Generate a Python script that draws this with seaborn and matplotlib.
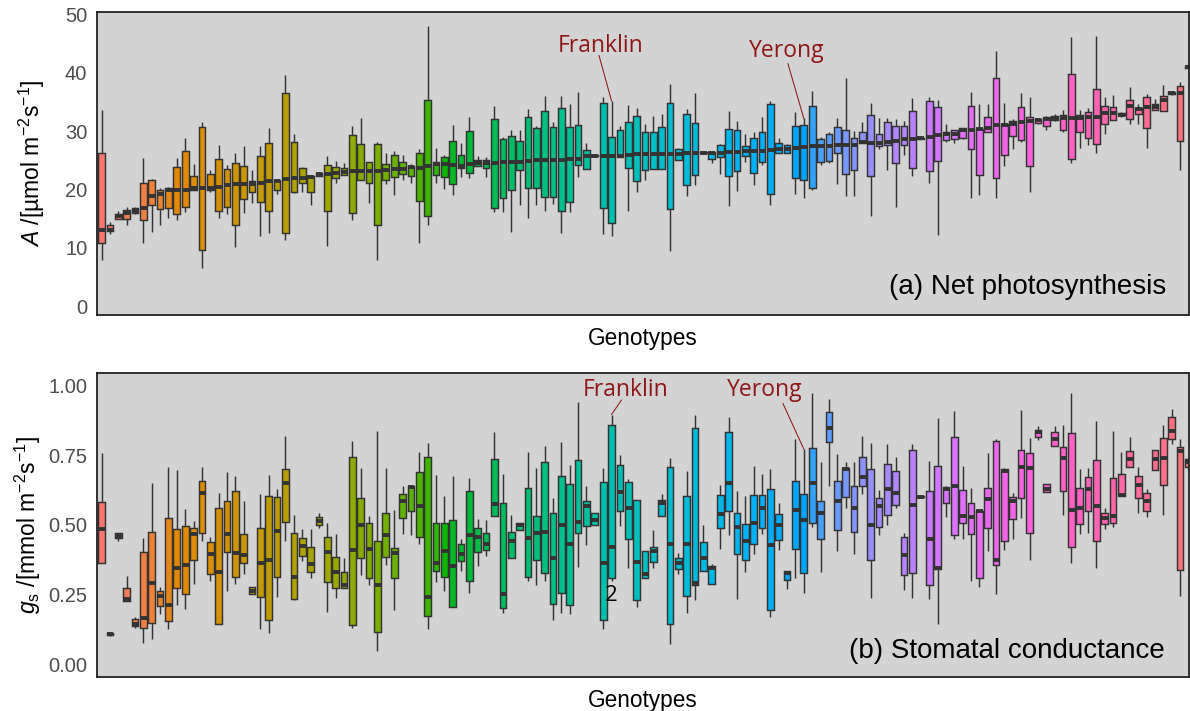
import numpy as np
import pandas as pd
import matplotlib
matplotlib.use("Agg")
import matplotlib.pyplot as plt
import seaborn as sns

# ---------------- data (five-number summaries per genotype, sorted by median A) -------------
A_lo = [8.0, 12.3, 14.9, 13.9, 15.8, 10.8, 12.7, 14.0, 15.1, 14.7,
        16.2, 20.0, 6.6, 19.5, 15.1, 15.8, 10.1, 16.0, 17.7, 12.1,
        12.5, 19.2, 11.4, 19.4, 19.6, 17.4, 22.4, 10.3, 21.2, 22.5,
        14.7, 21.6, 17.7, 7.9, 21.0, 19.0, 21.6, 21.1, 10.8, 14.0,
        21.1, 20.1, 19.1, 22.2, 21.9, 24.1, 22.2, 16.2, 16.2, 12.7,
        17.4, 15.2, 17.4, 16.3, 17.5, 12.6, 16.2, 22.2, 23.6, 25.6,
        12.3, 12.1, 25.5, 16.3, 19.6, 21.6, 23.6, 23.6, 9.5, 25.0,
        18.9, 20.8, 26.1, 24.5, 22.7, 17.2, 19.7, 24.8, 20.8, 24.2,
        17.4, 26.3, 26.2, 19.2, 18.6, 20.0, 24.2, 24.6, 21.0, 18.9,
        18.9, 28.0, 15.5, 26.9, 23.3, 17.0, 26.0, 22.3, 28.6, 21.2,
        12.2, 28.2, 27.9, 28.6, 18.5, 19.0, 29.8, 18.5, 24.1, 26.9,
        28.1, 19.6, 31.3, 30.2, 31.8, 29.9, 24.5, 27.2, 27.7, 26.2,
        29.6, 31.9, 32.5, 31.3, 31.3, 27.2, 33.6, 33.5, 36.2, 23.3,
        40.8]
A_q1 = [10.9, 12.9, 14.9, 14.9, 16.0, 14.7, 17.4, 16.7, 16.9, 15.8,
        17.0, 20.0, 9.6, 20.0, 16.3, 17.0, 13.9, 18.3, 19.6, 17.9,
        16.4, 19.9, 12.5, 19.6, 21.2, 19.6, 22.4, 16.4, 21.9, 22.5,
        16.0, 21.6, 21.1, 14.0, 21.6, 22.2, 22.7, 22.4, 18.0, 15.4,
        22.5, 22.2, 21.0, 23.7, 22.9, 24.1, 23.7, 16.9, 18.6, 19.9,
        23.3, 20.2, 20.2, 18.7, 18.7, 16.3, 17.9, 24.2, 23.6, 25.7,
        16.8, 14.3, 25.5, 23.7, 21.5, 23.3, 23.6, 23.6, 16.6, 25.0,
        20.8, 22.5, 26.2, 25.3, 25.5, 22.3, 23.2, 25.8, 22.8, 24.8,
        19.2, 26.3, 26.2, 22.0, 21.6, 20.3, 24.7, 24.9, 26.2, 22.7,
        23.3, 28.0, 22.3, 27.5, 27.7, 24.5, 27.7, 23.7, 28.7, 23.1,
        24.9, 28.5, 28.6, 28.9, 27.0, 22.5, 29.8, 21.9, 25.9, 29.2,
        28.5, 24.1, 31.4, 30.9, 32.0, 30.2, 25.2, 29.8, 28.9, 27.8,
        31.2, 31.9, 32.7, 32.1, 32.9, 30.6, 33.6, 33.5, 36.3, 28.4,
        40.9]
A_med = [13.1, 13.1, 15.4, 16.0, 16.4, 16.8, 18.9, 19.3, 19.9, 19.9,
         19.9, 20.3, 20.3, 20.3, 20.4, 20.8, 20.9, 21.0, 21.0, 21.2,
         21.4, 21.4, 21.8, 21.9, 22.0, 22.2, 22.6, 22.7, 22.9, 23.0,
         23.1, 23.1, 23.1, 23.2, 23.3, 23.5, 23.6, 23.9, 23.7, 24.1,
         24.3, 24.3, 24.2, 24.1, 24.3, 24.5, 24.5, 24.6, 24.7, 24.8,
         24.8, 24.9, 25.0, 25.0, 25.0, 25.0, 25.2, 25.3, 25.7, 25.8,
         25.8, 25.8, 25.8, 25.9, 26.1, 26.1, 26.1, 26.1, 26.1, 26.1,
         26.2, 26.2, 26.3, 26.3, 26.3, 26.5, 26.5, 26.6, 26.6, 26.6,
         26.8, 26.9, 27.0, 27.2, 27.3, 27.4, 27.5, 27.5, 27.6, 27.7,
         27.7, 28.2, 27.9, 27.9, 28.1, 28.4, 28.6, 28.7, 28.8, 29.0,
         29.4, 29.5, 29.5, 30.2, 30.2, 30.3, 30.6, 31.1, 31.1, 31.3,
         31.5, 31.7, 31.9, 32.1, 32.2, 32.2, 32.2, 32.3, 32.4, 32.4,
         33.2, 33.2, 32.8, 34.4, 33.8, 34.2, 34.2, 35.4, 36.5, 36.5,
         41.0]
A_q3 = [26.2, 13.9, 15.8, 16.5, 16.8, 21.2, 21.6, 20.0, 20.3, 23.9,
        26.6, 22.3, 30.8, 22.7, 25.3, 23.5, 24.5, 24.1, 21.5, 25.8,
        27.9, 21.6, 36.5, 28.1, 23.7, 22.3, 22.9, 24.2, 23.8, 23.7,
        29.4, 27.8, 24.8, 27.8, 24.3, 25.9, 24.8, 24.1, 26.2, 35.4,
        24.8, 25.5, 28.4, 25.9, 30.1, 25.0, 25.1, 32.1, 28.7, 29.2,
        28.4, 32.4, 30.6, 33.5, 30.8, 34.0, 30.7, 31.0, 26.8, 25.9,
        34.8, 29.0, 30.2, 31.6, 32.6, 29.8, 29.8, 30.8, 34.9, 26.9,
        32.9, 31.4, 26.4, 26.4, 27.6, 30.4, 30.2, 27.4, 28.9, 29.8,
        34.7, 27.9, 27.7, 30.9, 31.1, 34.4, 28.7, 29.6, 30.8, 30.2,
        28.9, 29.8, 32.8, 29.6, 31.5, 30.9, 30.9, 33.4, 28.9, 35.1,
        34.2, 29.9, 30.2, 30.5, 34.4, 30.4, 32.4, 39.2, 31.2, 31.8,
        34.1, 32.5, 32.1, 32.5, 32.6, 32.7, 39.8, 32.7, 33.3, 37.2,
        34.4, 34.2, 33.2, 35.4, 33.9, 35.8, 34.6, 36.1, 36.8, 37.8,
        41.1]
A_hi = [33.6, 14.5, 16.3, 17.0, 17.0, 25.4, 21.8, 20.3, 20.5, 25.4,
        28.8, 24.3, 31.5, 23.3, 27.7, 24.2, 26.2, 27.5, 23.3, 27.5,
        30.6, 21.8, 39.7, 29.5, 23.8, 22.3, 22.9, 25.7, 24.9, 24.5,
        30.9, 32.2, 24.8, 28.2, 26.2, 26.6, 25.9, 24.3, 27.0, 48.0,
        27.2, 26.0, 31.1, 28.0, 32.4, 25.7, 25.5, 34.4, 29.0, 30.2,
        30.2, 33.8, 30.9, 36.1, 31.5, 36.0, 34.6, 36.7, 27.9, 26.0,
        35.9, 35.2, 30.9, 34.5, 34.0, 31.3, 32.6, 32.9, 38.1, 27.2,
        33.8, 36.5, 26.6, 26.5, 27.8, 33.4, 31.8, 29.5, 29.9, 32.4,
        35.1, 28.9, 27.8, 33.3, 32.2, 36.9, 29.0, 29.9, 32.2, 39.1,
        30.0, 31.5, 34.9, 32.2, 32.2, 32.1, 31.7, 35.7, 29.0, 35.8,
        35.3, 31.3, 30.2, 30.5, 36.8, 34.7, 34.6, 43.8, 34.9, 32.1,
        36.5, 35.8, 32.3, 32.6, 33.0, 33.6, 46.1, 33.6, 34.0, 46.4,
        35.8, 36.2, 33.3, 37.5, 34.6, 36.3, 35.5, 37.9, 36.9, 38.5,
        41.2]

gs_lo = [0.364, 0.100, 0.442, 0.227, 0.131, 0.077, 0.089, 0.181, 0.125, 0.214,
         0.197, 0.287, 0.442, 0.299, 0.145, 0.263, 0.289, 0.323, 0.251, 0.127,
         0.113, 0.241, 0.442, 0.230, 0.370, 0.308, 0.488, 0.188, 0.239, 0.275,
         0.131, 0.320, 0.284, 0.049, 0.356, 0.193, 0.466, 0.464, 0.431, 0.125,
         0.296, 0.263, 0.205, 0.335, 0.257, 0.353, 0.388, 0.532, 0.185, 0.380,
         0.481, 0.299, 0.284, 0.299, 0.157, 0.185, 0.181, 0.349, 0.428, 0.500,
         0.128, 0.299, 0.496, 0.346, 0.205, 0.308, 0.346, 0.532, 0.071, 0.323,
         0.185, 0.230, 0.335, 0.287, 0.412, 0.464, 0.233, 0.332, 0.397, 0.466,
         0.169, 0.409, 0.269, 0.310, 0.257, 0.493, 0.332, 0.640, 0.406, 0.562,
         0.395, 0.610, 0.239, 0.464, 0.500, 0.562, 0.265, 0.239, 0.598, 0.233,
         0.143, 0.529, 0.449, 0.449, 0.299, 0.277, 0.406, 0.251, 0.409, 0.449,
         0.526, 0.373, 0.804, 0.619, 0.784, 0.536, 0.364, 0.466, 0.469, 0.346,
         0.484, 0.493, 0.604, 0.706, 0.541, 0.529, 0.697, 0.536, 0.790, 0.245,
         0.700]
gs_q1 = [0.364, 0.103, 0.452, 0.227, 0.137, 0.131, 0.149, 0.209, 0.155, 0.275,
         0.251, 0.374, 0.472, 0.323, 0.145, 0.404, 0.314, 0.362, 0.251, 0.241,
         0.157, 0.313, 0.511, 0.234, 0.388, 0.332, 0.500, 0.296, 0.272, 0.275,
         0.140, 0.380, 0.308, 0.116, 0.385, 0.308, 0.524, 0.550, 0.458, 0.173,
         0.335, 0.313, 0.205, 0.370, 0.299, 0.404, 0.409, 0.532, 0.200, 0.380,
         0.481, 0.313, 0.373, 0.328, 0.217, 0.257, 0.212, 0.472, 0.496, 0.500,
         0.157, 0.308, 0.550, 0.449, 0.229, 0.308, 0.368, 0.532, 0.145, 0.340,
         0.245, 0.284, 0.335, 0.287, 0.490, 0.548, 0.397, 0.373, 0.433, 0.490,
         0.193, 0.445, 0.301, 0.412, 0.328, 0.505, 0.449, 0.796, 0.481, 0.601,
         0.476, 0.640, 0.373, 0.493, 0.536, 0.572, 0.320, 0.328, 0.599, 0.284,
         0.341, 0.580, 0.464, 0.508, 0.466, 0.310, 0.488, 0.356, 0.442, 0.520,
         0.598, 0.472, 0.814, 0.619, 0.784, 0.620, 0.419, 0.502, 0.548, 0.442,
         0.502, 0.505, 0.604, 0.706, 0.596, 0.550, 0.697, 0.644, 0.808, 0.337,
         0.706]
gs_med = [0.485, 0.107, 0.460, 0.233, 0.143, 0.167, 0.293, 0.245, 0.212, 0.346,
          0.356, 0.466, 0.616, 0.397, 0.332, 0.466, 0.398, 0.392, 0.263, 0.364,
          0.373, 0.478, 0.651, 0.313, 0.423, 0.359, 0.514, 0.404, 0.332, 0.284,
          0.409, 0.500, 0.412, 0.284, 0.464, 0.400, 0.584, 0.636, 0.567, 0.241,
          0.364, 0.406, 0.353, 0.397, 0.464, 0.457, 0.431, 0.574, 0.251, 0.442,
          0.500, 0.452, 0.469, 0.476, 0.382, 0.500, 0.431, 0.511, 0.566, 0.517,
          0.364, 0.421, 0.619, 0.559, 0.368, 0.325, 0.406, 0.580, 0.433, 0.364,
          0.431, 0.293, 0.382, 0.344, 0.538, 0.649, 0.493, 0.442, 0.505, 0.562,
          0.428, 0.500, 0.326, 0.553, 0.517, 0.649, 0.541, 0.848, 0.584, 0.700,
          0.562, 0.670, 0.500, 0.568, 0.628, 0.616, 0.392, 0.572, 0.601, 0.449,
          0.346, 0.628, 0.640, 0.532, 0.529, 0.548, 0.592, 0.373, 0.694, 0.586,
          0.709, 0.704, 0.832, 0.628, 0.808, 0.740, 0.553, 0.562, 0.628, 0.568,
          0.524, 0.532, 0.608, 0.736, 0.644, 0.586, 0.736, 0.740, 0.836, 0.764,
          0.725]
gs_q3 = [0.583, 0.112, 0.470, 0.272, 0.161, 0.404, 0.475, 0.263, 0.526, 0.484,
         0.496, 0.490, 0.656, 0.440, 0.562, 0.584, 0.622, 0.466, 0.277, 0.488,
         0.603, 0.601, 0.700, 0.472, 0.454, 0.421, 0.529, 0.457, 0.386, 0.332,
         0.742, 0.598, 0.506, 0.442, 0.542, 0.416, 0.610, 0.640, 0.688, 0.742,
         0.505, 0.505, 0.517, 0.433, 0.622, 0.488, 0.469, 0.736, 0.580, 0.476,
         0.505, 0.631, 0.532, 0.724, 0.544, 0.676, 0.646, 0.734, 0.584, 0.541,
         0.655, 0.860, 0.716, 0.655, 0.589, 0.406, 0.419, 0.589, 0.706, 0.380,
         0.604, 0.848, 0.440, 0.353, 0.607, 0.832, 0.544, 0.502, 0.608, 0.608,
         0.628, 0.538, 0.335, 0.658, 0.610, 0.776, 0.584, 0.904, 0.656, 0.704,
         0.640, 0.742, 0.700, 0.596, 0.718, 0.692, 0.457, 0.769, 0.603, 0.620,
         0.712, 0.637, 0.814, 0.625, 0.580, 0.550, 0.634, 0.802, 0.700, 0.601,
         0.769, 0.757, 0.840, 0.646, 0.832, 0.778, 0.828, 0.632, 0.673, 0.733,
         0.544, 0.668, 0.682, 0.764, 0.676, 0.613, 0.769, 0.812, 0.886, 0.778,
         0.736]
gs_hi = [0.757, 0.115, 0.470, 0.317, 0.169, 0.452, 0.652, 0.278, 0.709, 0.697,
         0.556, 0.514, 0.706, 0.457, 0.616, 0.691, 0.676, 0.584, 0.277, 0.610,
         0.679, 0.628, 0.819, 0.536, 0.484, 0.484, 0.541, 0.508, 0.466, 0.382,
         0.802, 0.704, 0.532, 0.836, 0.704, 0.553, 0.640, 0.644, 0.760, 0.793,
         0.680, 0.604, 0.676, 0.449, 0.668, 0.520, 0.517, 0.832, 0.682, 0.536,
         0.505, 0.760, 0.704, 0.784, 0.598, 0.799, 0.716, 0.940, 0.638, 0.541,
         0.704, 0.896, 0.752, 0.664, 0.589, 0.406, 0.481, 0.610, 0.740, 0.400,
         0.692, 0.896, 0.500, 0.361, 0.644, 0.886, 0.620, 0.604, 0.712, 0.682,
         0.700, 0.577, 0.335, 0.808, 0.772, 0.972, 0.724, 0.952, 0.754, 0.724,
         0.724, 0.820, 0.793, 0.625, 0.790, 0.742, 0.469, 0.790, 0.604, 0.730,
         0.884, 0.640, 0.908, 0.712, 0.634, 0.553, 0.757, 0.808, 0.704, 0.613,
         0.912, 0.812, 0.853, 0.646, 0.856, 0.860, 0.972, 0.700, 0.704, 0.872,
         0.562, 0.838, 0.760, 0.814, 0.706, 0.628, 0.769, 0.860, 0.916, 0.808,
         0.740]

n_geno = len(A_med)
genotypes = [f"G{i + 1:03d}" for i in range(n_geno)]
FRANKLIN, YERONG = 61, 84
genotypes[FRANKLIN] = "Franklin"
genotypes[YERONG] = "Yerong"

# ---------------- ggplot-like hue palette (HCL, c=100, l=65) ----------------
def hue_pal(n, c=100.0, l=65.0):
    h = np.deg2rad(np.linspace(15, 375, n + 1)[:-1])
    u = c * np.cos(h); v = c * np.sin(h)
    Xn, Yn, Zn = 0.95047, 1.0, 1.08883
    un = 4 * Xn / (Xn + 15 * Yn + 3 * Zn)
    vn = 9 * Yn / (Xn + 15 * Yn + 3 * Zn)
    Y = Yn * ((l + 16) / 116) ** 3
    up = u / (13 * l) + un
    vp = v / (13 * l) + vn
    X = Y * 9 * up / (4 * vp)
    Z = Y * (12 - 3 * up - 20 * vp) / (4 * vp)
    R = 3.2404542 * X - 1.5371385 * Y - 0.4985314 * Z
    G = -0.9692660 * X + 1.8760108 * Y + 0.0415560 * Z
    B = 0.0556434 * X - 0.2040259 * Y + 1.0572252 * Z
    rgb = np.stack([R, G, B], axis=1)
    rgb = np.where(rgb <= 0.0031308, 12.92 * rgb, 1.055 * np.clip(rgb, 0, None) ** (1 / 2.4) - 0.055)
    return [tuple(x) for x in np.clip(rgb, 0, 1)]

colors = hue_pal(n_geno)
palette = dict(zip(genotypes, colors))

def long_frame(lo, q1, med, q3, hi, name):
    rows = []
    for g, a, b, c_, d, e in zip(genotypes, lo, q1, med, q3, hi):
        for val in (a, b, c_, d, e):
            rows.append((g, val))
    return pd.DataFrame(rows, columns=["genotype", name])

dfA = long_frame(A_lo, A_q1, A_med, A_q3, A_hi, "A")
dfG = long_frame(gs_lo, gs_q1, gs_med, gs_q3, gs_hi, "gs")

# ---------------- style ----------------
sns.set_style("white")
plt.rcParams["font.family"] = ["Liberation Sans", "DejaVu Sans"]
plt.rcParams["text.color"] = "black"
plt.rcParams["axes.labelcolor"] = "black"
plt.rcParams["mathtext.fontset"] = "custom"
plt.rcParams["mathtext.rm"] = "Liberation Sans"
plt.rcParams["mathtext.it"] = "Liberation Sans:italic"
plt.rcParams["mathtext.bf"] = "Liberation Sans:bold"

fig = plt.figure(figsize=(11.9, 7.11), dpi=100)
axA = fig.add_axes([0.0815, 0.557, 0.9176, 0.4266])
axG = fig.add_axes([0.0815, 0.0482, 0.9176, 0.4276])

box_kw = dict(order=genotypes, hue="genotype", hue_order=genotypes, palette=palette,
              legend=False, whis=(0, 100), width=0.8, saturation=1, dodge=False,
              linecolor="#333333", linewidth=1.05, showcaps=False, fliersize=0,
              medianprops=dict(linewidth=2.8, color="#333333"))

sns.boxplot(data=dfA, x="genotype", y="A", ax=axA, **box_kw)
sns.boxplot(data=dfG, x="genotype", y="gs", ax=axG, **box_kw)

red = "#8E1616"
for ax in (axA, axG):
    ax.set_facecolor("#D3D3D3")
    ax.set_xlim(-0.55, n_geno - 0.93)
    ax.set_xticks([])
    ax.set_xlabel("Genotypes", fontsize=16.3, labelpad=9, color="black")
    ax.tick_params(axis="y", length=0, pad=7, labelsize=14.5, labelcolor="#4D4D4D")
    for s in ax.spines.values():
        s.set_visible(True)
        s.set_color("#222222")
        s.set_linewidth(1.3)
    ax.grid(False)

axA.set_ylim(-1.5, 50.5)
axA.set_yticks([0, 10, 20, 30, 40, 50])
axA.set_ylabel(r"$\mathit{A}$ /[µmol m$^{-2}$s$^{-1}$]", fontsize=16.5, labelpad=13, color="black")
axG.set_ylim(-0.045, 1.046)
axG.set_yticks([0, 0.25, 0.5, 0.75, 1.0])
axG.set_yticklabels(["0.00", "0.25", "0.50", "0.75", "1.00"])
axG.set_ylabel(r"$g_{\mathrm{s}}$ /[mmol m$^{-2}$s$^{-1}$]", fontsize=16.5, labelpad=4, color="black")

afont = dict(family=["Open Sans", "DejaVu Sans"], fontsize=16.5, color=red,
             ha="center", va="baseline")
line_kw = dict(arrowstyle="-", color=red, lw=0.75, shrinkA=0, shrinkB=0)

# panel (a) annotations
axA.text(59.75, 43.5, "Franklin", **afont)
axA.annotate("", xy=(FRANKLIN, A_hi[FRANKLIN]), xytext=(59.5, 43.0), arrowprops=line_kw)
axA.text(82.0, 42.8, "Yerong", **afont)
axA.annotate("", xy=(YERONG, A_hi[YERONG]), xytext=(82.1, 41.6), arrowprops=line_kw)
axA.text(0.979, 0.069, "(a) Net photosynthesis", transform=axA.transAxes,
         ha="right", va="baseline", fontsize=20, color="black")

# panel (b) annotations
axG.text(62.65, 0.962, "Franklin", **afont)
axG.annotate("", xy=(FRANKLIN, gs_hi[FRANKLIN]), xytext=(62.2, 0.948), arrowprops=line_kw)
axG.text(79.3, 0.962, "Yerong", **afont)
axG.annotate("", xy=(YERONG, gs_hi[YERONG]), xytext=(81.5, 0.936), arrowprops=line_kw)
axG.text(61.0, 0.228, "2", family=["Open Sans", "DejaVu Sans"], fontsize=16,
         color="black", ha="center", va="baseline")
axG.text(0.978, 0.063, "(b) Stomatal conductance", transform=axG.transAxes,
         ha="right", va="baseline", fontsize=20, color="black")

fig.savefig("out.png", dpi=100)
